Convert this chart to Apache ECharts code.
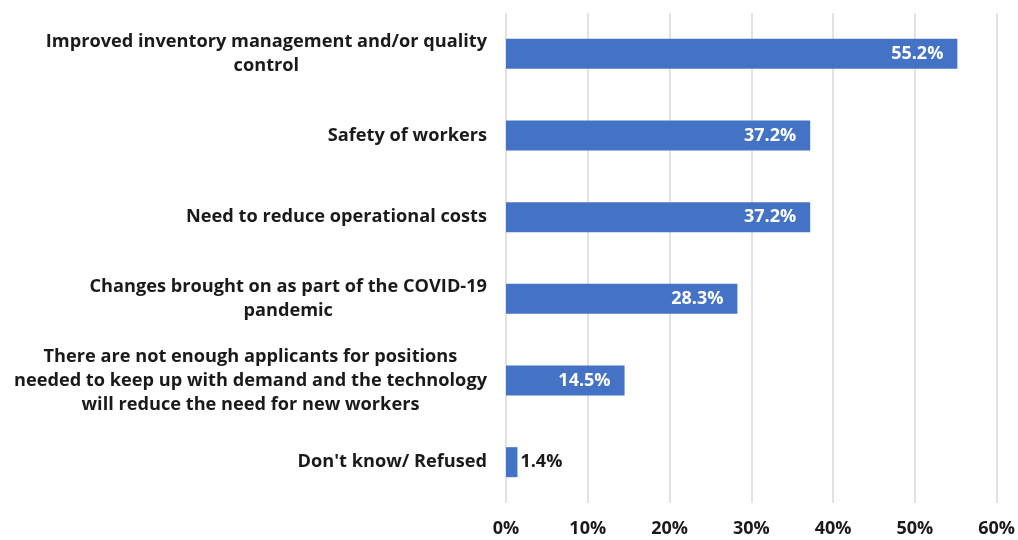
<!DOCTYPE html>
<html>
<head>
<meta charset="utf-8">
<script src="https://cdn.jsdelivr.net/npm/echarts@6/dist/echarts.min.js"></script>
<style>html,body{margin:0;padding:0;background:#fff}#c{width:1018px;height:540px}</style>
</head>
<body>
<div id="c"></div>
<script>
const categories = [
  "Improved inventory management and/or quality\ncontrol",
  "Safety of workers",
  "Need to reduce operational costs",
  "Changes brought on as part of the COVID-19\npandemic",
  "There are not enough applicants for positions\nneeded to keep up with demand and the technology\nwill reduce the need for new workers",
  "Don't know/ Refused"
];
const values = [55.2, 37.2, 37.2, 28.3, 14.5, 1.4];
const xTicks = { min: 0, max: 60, interval: 10 };

const chart = echarts.init(document.getElementById('c'), null, { renderer: 'canvas' });
const FONT = '"Open Sans"';
chart.setOption({
  animation: false,
  grid: { left: 506, right: 21, top: 13, bottom: 37, containLabel: false },
  xAxis: {
    type: 'value', min: xTicks.min, max: xTicks.max, interval: xTicks.interval,
    axisLine: { show: false }, axisTick: { show: false },
    splitLine: { show: true, lineStyle: { color: '#d9d9d9', width: 1.5 } },
    axisLabel: { formatter: v => v + '%', color: '#1a1a1a', fontFamily: FONT, fontWeight: 'bold', fontSize: 18, margin: 17 }
  },
  yAxis: {
    type: 'category', data: categories, inverse: true,
    axisLine: { show: false }, axisTick: { show: false },
    axisLabel: {
      margin: 19, align: 'right',
      formatter: v => '{a|' + v + '}',
      rich: { a: { align: 'center', color: '#1a1a1a', fontFamily: FONT, fontWeight: 'bold', fontSize: 18.2, lineHeight: 24 } }
    }
  },
  series: [{
    type: 'bar', barWidth: 30,
    data: values.map(v => ({
      value: v,
      label: v < 5
        ? { position: 'right', color: '#1a1a1a', distance: 3 }
        : { position: 'insideRight', color: '#ffffff', distance: 14 }
    })),
    itemStyle: { color: '#4472c4' },
    label: { show: true, formatter: p => p.value.toFixed(1) + '%', fontFamily: FONT, fontWeight: 'bold', fontSize: 18 }
  }]
});
</script>
</body>
</html>
